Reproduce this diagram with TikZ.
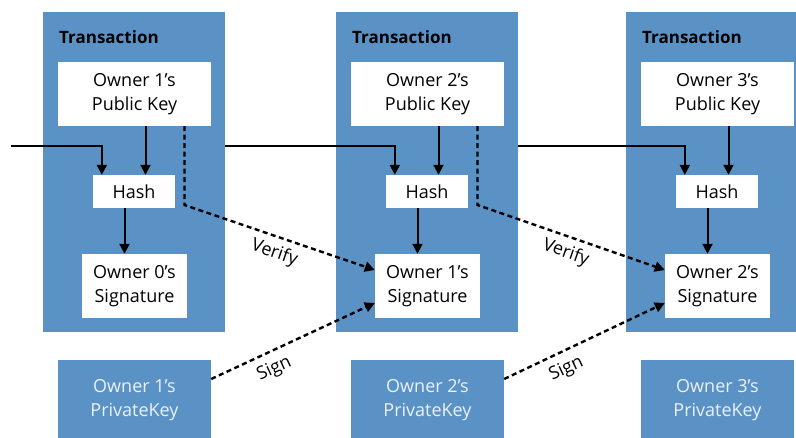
\documentclass[tikz,border=0pt]{standalone}
\usepackage{fontspec}
\setmainfont{Open Sans}
\usepackage{tikz}
\usetikzlibrary{arrows.meta,positioning,calc}
\definecolor{txblue}{RGB}{91,146,198}
\definecolor{txtext}{RGB}{235,242,249}
\tikzset{
  txbox/.style={fill=txblue, inner sep=0pt, minimum width=182pt, minimum height=320pt},
  txtitle/.style={font=\fontsize{17}{20}\selectfont\bfseries, anchor=west, inner sep=0pt},
  wbox/.style={fill=white, inner sep=0pt, align=center, font=\fontsize{18}{24}\selectfont,
               minimum width=#1},
  keybox/.style={wbox=153pt, minimum height=64pt},
  hashbox/.style={wbox=82pt, minimum height=33pt},
  sigbox/.style={wbox=105pt, minimum height=64pt},
  privbox/.style={fill=txblue, text=txtext, inner sep=0pt, align=center,
                  font=\fontsize{18}{24}\selectfont, minimum width=153pt, minimum height=80pt},
  flow/.style={line width=2pt, -{Triangle[length=10pt,width=10pt]}},
  dashflow/.style={flow, line width=2.4pt, dash pattern=on 5pt off 3.5pt},
  steplabel/.style={font=\fontsize{18}{20}\selectfont, sloped, below},
}

\begin{document}
\begin{tikzpicture}[x=1pt, y=-1pt]
\useasboundingbox (0,0) rectangle (796,437);

% Transaction 1
\node[txbox] (tx1) at (134,172) {};
\node[txtitle] (title1) at (59,37) {Transaction};
\node[keybox] (pk1) at (134.5,94) {Owner 1’s\\Public Key};
\node[hashbox] (hash1) at (134,191.5) {Hash};
\node[sigbox] (sig1) at (134.5,286) {Owner 0’s\\Signature};
\node[privbox] (priv1) at (134.5,400) {Owner 1’s\\PrivateKey};

% Transaction 2
\node[txbox] (tx2) at (427,172) {};
\node[txtitle] (title2) at (352,37) {Transaction};
\node[keybox] (pk2) at (427.5,94) {Owner 2’s\\Public Key};
\node[hashbox] (hash2) at (427,191.5) {Hash};
\node[sigbox] (sig2) at (427.5,286) {Owner 1’s\\Signature};
\node[privbox] (priv2) at (427.5,400) {Owner 2’s\\PrivateKey};

% Transaction 3
\node[txbox] (tx3) at (717,172) {};
\node[txtitle] (title3) at (642,37) {Transaction};
\node[keybox] (pk3) at (717.5,94) {Owner 3’s\\Public Key};
\node[hashbox] (hash3) at (717,191.5) {Hash};
\node[sigbox] (sig3) at (717.5,286) {Owner 2’s\\Signature};
\node[privbox] (priv3) at (717.5,400) {Owner 3’s\\PrivateKey};

% hash chain
\coordinate (in0) at (11,146);
\draw[flow] (in0) -| ([xshift=9pt]hash1.north west);
\draw[flow] (tx1.east |- in0) -| ([xshift=9pt]hash2.north west);
\draw[flow] (tx2.east |- in0) -| ([xshift=9pt]hash3.north west);

% key -> hash -> signature
\draw[flow] ([xshift=11pt]pk1.south) -- ([xshift=11pt]pk1.south |- hash1.north);
\draw[flow] ([xshift=-9.5pt]hash1.south) -- ([xshift=-9.5pt]hash1.south |- sig1.north);
\draw[flow] ([xshift=11pt]pk2.south) -- ([xshift=11pt]pk2.south |- hash2.north);
\draw[flow] ([xshift=-9.5pt]hash2.south) -- ([xshift=-9.5pt]hash2.south |- sig2.north);
\draw[flow] ([xshift=11pt]pk3.south) -- ([xshift=11pt]pk3.south |- hash3.north);
\draw[flow] ([xshift=-9.5pt]hash3.south) -- ([xshift=-9.5pt]hash3.south |- sig3.north);

% verify and sign
\coordinate (v1) at (184.5,205);
\coordinate (v2) at (477.5,205);
\draw[dashflow] (pk1.south -| v1) -- (v1)
  -- node[steplabel, inner sep=6pt] {Verify} ([yshift=16pt]sig2.west);
\draw[dashflow] (pk2.south -| v2) -- (v2)
  -- node[steplabel, inner sep=6pt] {Verify} ([yshift=16pt]sig3.west);
\draw[dashflow] ([yshift=21pt]priv1.east)
  -- node[steplabel, pos=0.34, inner sep=8pt] {Sign} ([yshift=-17pt]sig2.west);
\draw[dashflow] ([yshift=21pt]priv2.east)
  -- node[steplabel, pos=0.34, inner sep=8pt] {Sign} ([yshift=-17pt]sig3.west);

\end{tikzpicture}
\end{document}
